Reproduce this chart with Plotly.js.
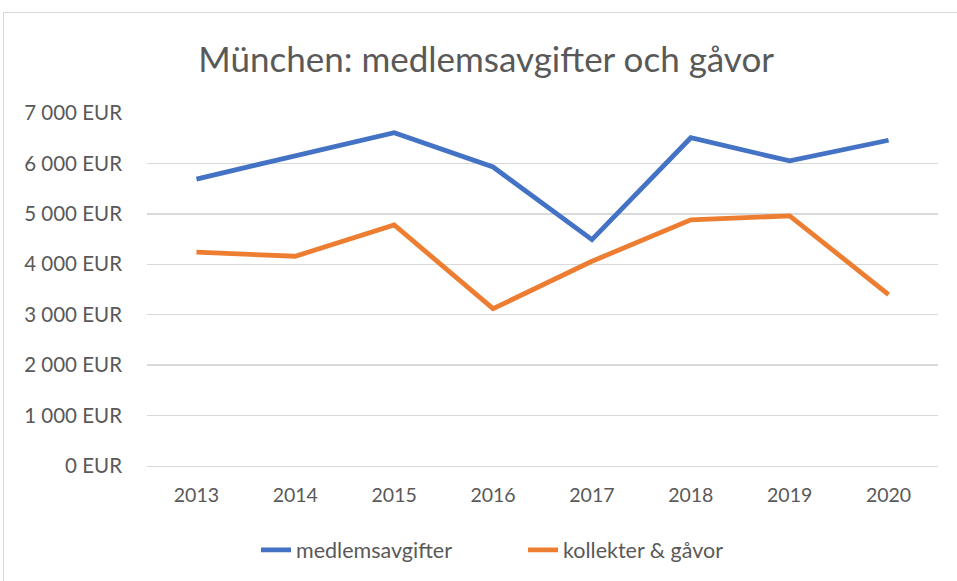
<!DOCTYPE html>
<html>
<head>
<meta charset="utf-8">
<script src="https://cdn.plot.ly/plotly-3.0.1.min.js"></script>
<style>
  html, body { margin: 0; padding: 0; background: #fff; }
  #wrap { position: relative; width: 957px; height: 581px; overflow: hidden; }
  #chart { position: absolute; left: 0; top: 0; width: 957px; height: 581px; }
  #frame { position: absolute; left: 3px; top: 12px; width: 980px; height: 600px;
           border: 1.5px solid #d9d9d9; box-sizing: border-box; pointer-events: none; }
</style>
</head>
<body>
<div id="wrap">
  <div id="chart"></div>
  <div id="frame"></div>
</div>
<script>
const years = ['2013', '2014', '2015', '2016', '2017', '2018', '2019', '2020'];
const medlemsavgifter = [5690, 6150, 6610, 5930, 4490, 6510, 6050, 6460];
const kollekter = [4240, 4160, 4780, 3120, 4060, 4880, 4960, 3400];
const tickValues = [0, 1000, 2000, 3000, 4000, 5000, 6000, 7000];
const tickLabels = ['0 EUR', '1 000 EUR', '2 000 EUR', '3 000 EUR', '4 000 EUR', '5 000 EUR', '6 000 EUR', '7 000 EUR'];
const seriesNames = ['medlemsavgifter', 'kollekter & gåvor'];

const FONT = 'Lato, "Open Sans", sans-serif';

const data = [
  { x: years, y: medlemsavgifter, name: seriesNames[0], type: 'scatter', mode: 'lines',
    line: { color: '#4472C4', width: 4.8, shape: 'linear' } },
  { x: years, y: kollekter, name: seriesNames[1], type: 'scatter', mode: 'lines',
    line: { color: '#ED7D31', width: 4.8, shape: 'linear' } }
];

const layout = {
  width: 957, height: 581,
  margin: { l: 147, r: 19, t: 113, b: 114, pad: 0 },
  paper_bgcolor: 'rgba(0,0,0,0)',
  plot_bgcolor: '#fff',
  showlegend: true,
  title: { text: 'München: medlemsavgifter och gåvor', x: 0.508, xref: 'container', xanchor: 'center',
           y: 1 - 60 / 581, yref: 'container', yanchor: 'middle',
           font: { family: FONT, size: 35, color: '#595959' } },
  xaxis: { type: 'category', range: [-0.5, 7.5], showgrid: false, zeroline: false,
           showline: true, linecolor: '#d9d9d9', linewidth: 1, ticks: '',
           tickfont: { family: FONT, size: 19.5, color: '#595959' }, ticklabelstandoff: 12,
           fixedrange: true },
  yaxis: { range: [0, 7000], tickvals: tickValues, ticktext: tickLabels, showgrid: true,
           gridcolor: '#d9d9d9', gridwidth: 1.3, zeroline: false, showline: false, ticks: '',
           tickfont: { family: FONT, size: 20.5, color: '#595959' }, ticklabelstandoff: 24,
           fixedrange: true },
  legend: { orientation: 'h', x: (256 - 147) / 791, xanchor: 'left', y: -0.234, yanchor: 'middle',
            font: { family: FONT, size: 21.5, color: '#595959' }, bgcolor: 'rgba(0,0,0,0)',
            itemwidth: 30, entrywidth: 222, entrywidthmode: 'pixels' }
};

Plotly.newPlot('chart', data, layout, { displayModeBar: false, staticPlot: true });
</script>
</body>
</html>
